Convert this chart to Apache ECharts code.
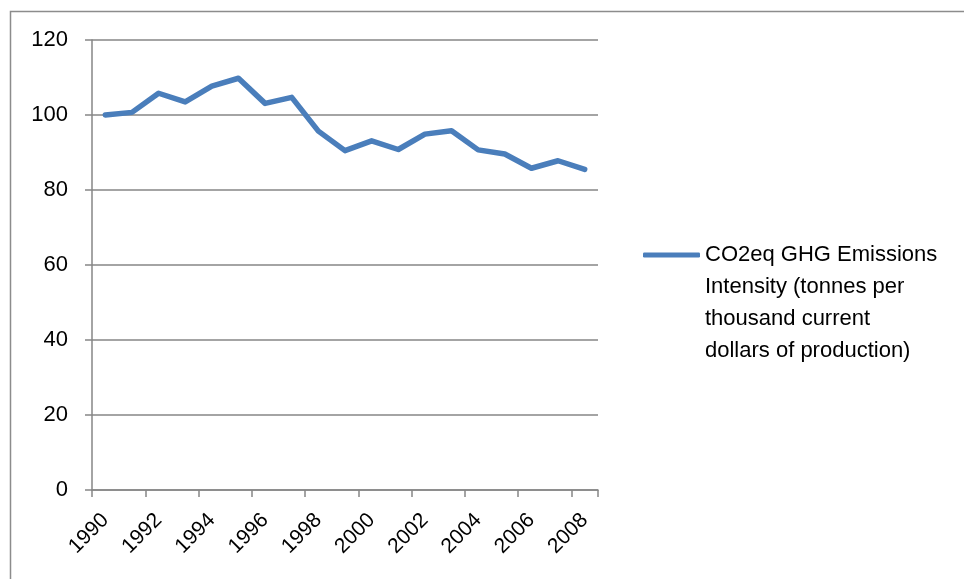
<!DOCTYPE html>
<html>
<head>
<meta charset="utf-8">
<script src="https://cdn.jsdelivr.net/npm/echarts@6/dist/echarts.min.js"></script>
<style>
  html, body { margin: 0; padding: 0; background: #fff; }
  #chart { width: 964px; height: 579px; }
</style>
</head>
<body>
<div id="chart"></div>
<script>
var years = ['1990', '1991', '1992', '1993', '1994', '1995', '1996', '1997', '1998', '1999',
             '2000', '2001', '2002', '2003', '2004', '2005', '2006', '2007', '2008'];
var intensity = [100, 100.7, 105.8, 103.5, 107.7, 109.8, 103.1, 104.7, 95.7, 90.5,
                 93.1, 90.8, 94.9, 95.8, 90.7, 89.6, 85.8, 87.8, 85.5];
var seriesName = 'CO2eq GHG Emissions Intensity (tonnes per thousand current dollars of production)';
var legendLines = ['CO2eq GHG Emissions', 'Intensity (tonnes per', 'thousand current', 'dollars of production)'];

var chart = echarts.init(document.getElementById('chart'));
var gray = '#868686';
var option = {
    animation : false,
    backgroundColor : '#fff',
    textStyle : {
        fontFamily : 'Liberation Sans'
    },
    graphic : [
        {
            type : 'rect',
            shape : { x : 10.5, y : 11.5, width : 1000, height : 700 },
            style : { fill : 'none', stroke : '#8c8c8c', lineWidth : 1.5 },
            silent : true
        }
    ],
    grid : {
        left : 92,
        right : 366,
        top : 40,
        bottom : 89
    },
    legend : {
        left : 638,
        top : 138,
        orient : 'vertical',
        itemWidth : 57,
        itemHeight : 5,
        itemGap : 0,
        icon : 'roundRect',
        data : [seriesName],
        // blank lines on top keep the icon level with the first text line
        formatter : function () {
            return ' \n \n \n' + legendLines.join('\n');
        },
        textStyle : {
            fontSize : 22,
            color : '#000',
            lineHeight : 32
        }
    },
    xAxis : {
        type : 'category',
        boundaryGap : true,
        data : years,
        axisLine : { lineStyle : { color : gray, width : 1.5 } },
        axisTick : { show : true, length : 7, lineStyle : { color : gray, width : 1.5 } },
        axisLabel : {
            interval : 1,
            rotate : 45,
            margin : 27,
            fontSize : 21,
            color : '#000'
        }
    },
    yAxis : {
        type : 'value',
        min : 0,
        max : 120,
        interval : 20,
        axisLine : { show : true, lineStyle : { color : gray, width : 1.5 } },
        axisTick : { show : true, length : 7, lineStyle : { color : gray, width : 1.5 } },
        splitLine : { lineStyle : { color : gray, width : 1.5 } },
        axisLabel : {
            margin : 24,
            fontSize : 22,
            color : '#000'
        }
    },
    series : [
        {
            name : seriesName,
            type : 'line',
            data : intensity,
            showSymbol : false,
            symbol : 'none',
            color : '#4a7ebb',
            lineStyle : {
                color : '#4a7ebb',
                width : 5.5,
                cap : 'round',
                join : 'round'
            }
        }
    ]
};
chart.setOption(option);
</script>
</body>
</html>
